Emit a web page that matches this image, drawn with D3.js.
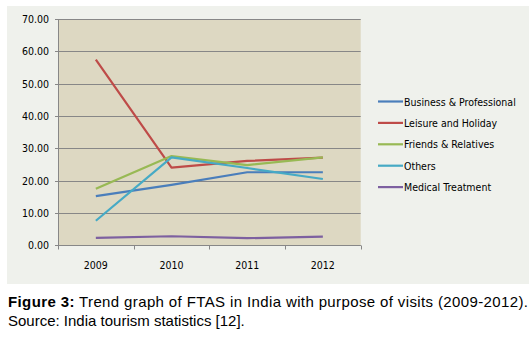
<!DOCTYPE html>
<html>
<head>
<meta charset="utf-8">
<script src="https://cdn.jsdelivr.net/npm/d3@7"></script>
<style>
  body { margin: 0; background: #fff; }
  svg { display: block; }
</style>
</head>
<body>
<div class="chart"></div>
<script>
// data
var years = ["2009", "2010", "2011", "2012"];
var seriesNames = ["Business & Professional", "Leisure and Holiday", "Friends & Relatives", "Others", "Medical Treatment"];
var business = [15.2, 18.7, 22.6, 22.6];
var leisure = [57.4, 24.0, 26.1, 27.1];
var friends = [17.5, 27.6, 24.8, 27.2];
var others = [7.6, 27.2, 23.9, 20.5];
var medical = [2.3, 2.8, 2.2, 2.7];
var yTicks = [0, 10, 20, 30, 40, 50, 60, 70];
var colors = ["#4a7ebb", "#be4b48", "#98b954", "#46aac5", "#7d60a0"];

var series = [business, leisure, friends, others, medical].map(function(v, i){
    return { name: seriesNames[i], values: v, color: colors[i] };
});

var width = 532, height = 337;
var axisFont = "'DejaVu Sans Condensed', 'DejaVu Sans', sans-serif";

var svg = d3.select(".chart").append("svg")
    .attr("width", width)
    .attr("height", height);

// chart area
svg.append("rect")
    .attr("x", 7).attr("y", 6)
    .attr("width", 522).attr("height", 278)
    .attr("fill", "#eff1ec");

var plot = { left: 58, right: 360.7, top: 19, bottom: 245.3 };

var x = d3.scaleBand()
    .domain(years)
    .range([plot.left, plot.right]);

var y = d3.scaleLinear()
    .domain([0, 70])
    .range([plot.bottom, plot.top]);

svg.append("rect")
    .attr("x", plot.left).attr("y", plot.top)
    .attr("width", plot.right - plot.left)
    .attr("height", plot.bottom - plot.top)
    .attr("fill", "#ddd8c2");

// gridlines
svg.append("g")
    .selectAll("line")
    .data(yTicks)
    .enter()
    .append("line")
    .attr("x1", plot.left - 3)
    .attr("x2", plot.right)
    .attr("y1", function(d){ return Math.round(y(d)) + 0.5; })
    .attr("y2", function(d){ return Math.round(y(d)) + 0.5; })
    .attr("stroke", "#878787")
    .attr("stroke-width", 1);

// y axis
var yAxis = d3.axisLeft(y)
    .tickValues(yTicks)
    .tickFormat(d3.format(".2f"))
    .tickSize(0)
    .tickPadding(9);
var gy = svg.append("g")
    .attr("transform", "translate(" + plot.left + ",0)")
    .call(yAxis);
gy.select(".domain").attr("stroke", "#878787");
gy.selectAll("text")
    .attr("font-family", axisFont)
    .attr("font-size", "10.5px")
    .attr("fill", "#000");

// x axis
var gx = svg.append("g")
    .attr("transform", "translate(0," + (Math.round(plot.bottom) + 0.5) + ")");
gx.append("line")
    .attr("x1", plot.left).attr("x2", plot.right)
    .attr("stroke", "#878787");
gx.selectAll(".tk")
    .data(years.concat(["end"]))
    .enter()
    .append("line")
    .attr("x1", function(d, i){ return Math.round(plot.left + i * x.step()) + 0.5; })
    .attr("x2", function(d, i){ return Math.round(plot.left + i * x.step()) + 0.5; })
    .attr("y1", 0).attr("y2", 4)
    .attr("stroke", "#878787");
gx.selectAll("text")
    .data(years)
    .enter()
    .append("text")
    .attr("x", function(d){ return x(d) + x.bandwidth() / 2; })
    .attr("y", 23)
    .attr("text-anchor", "middle")
    .attr("font-family", axisFont)
    .attr("font-size", "10.5px")
    .text(function(d){ return d; });

// lines
var line = d3.line()
    .x(function(d, i){ return x(years[i]) + x.bandwidth() / 2; })
    .y(function(d){ return y(d); });

svg.append("g")
    .selectAll("path")
    .data(series)
    .enter()
    .append("path")
    .attr("d", function(d){ return line(d.values); })
    .attr("fill", "none")
    .attr("stroke", function(d){ return d.color; })
    .attr("stroke-width", 2.2)
    .attr("stroke-linejoin", "round");

// legend
var legend = svg.append("g")
    .attr("transform", "translate(378,101.5)");
var entry = legend.selectAll("g")
    .data(series)
    .enter()
    .append("g")
    .attr("transform", function(d, i){ return "translate(0," + i * 21.4 + ")"; });
entry.append("line")
    .attr("x1", 0).attr("x2", 25)
    .attr("stroke", function(d){ return d.color; })
    .attr("stroke-width", 2.2);
entry.append("text")
    .attr("x", 26)
    .attr("y", 4)
    .attr("font-family", axisFont)
    .attr("font-size", "10.5px")
    .attr("fill", "#000")
    .text(function(d){ return d.name; });

// caption
var cap = svg.append("text")
    .attr("x", 8)
    .attr("y", 307)
    .attr("font-family", "'Liberation Sans', Arial, sans-serif")
    .attr("font-size", "15px")
    .attr("fill", "#000")
    .attr("textLength", 520)
    .attr("lengthAdjust", "spacing");
cap.append("tspan").attr("font-weight", "bold").text("Figure 3:");
cap.append("tspan").text(" Trend graph of FTAS in India with purpose of visits (2009-2012).");
svg.append("text")
    .attr("x", 8)
    .attr("y", 326)
    .attr("font-family", "'Liberation Sans', Arial, sans-serif")
    .attr("font-size", "15px")
    .attr("fill", "#000")
    .text("Source: India tourism statistics [12].");
</script>
</body>
</html>
